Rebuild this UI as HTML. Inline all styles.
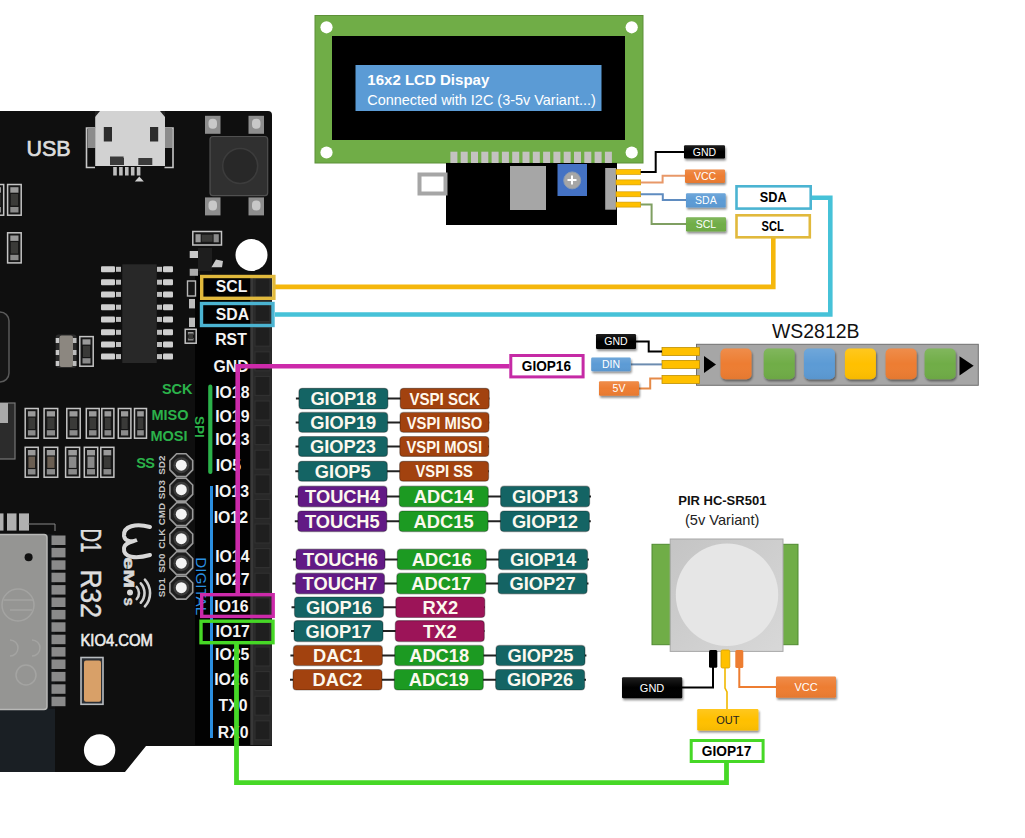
<!DOCTYPE html><html><head><meta charset="utf-8"><style>html,body{margin:0;padding:0;background:#fff;}body{width:1025px;height:838px;overflow:hidden;}svg{display:block;font-family:"Liberation Sans",sans-serif;}</style></head><body>
<svg width="1025" height="838" viewBox="0 0 1025 838">
<defs><filter id="sh" x="-20%" y="-20%" width="150%" height="170%"><feGaussianBlur in="SourceAlpha" stdDeviation="1.2"/><feOffset dx="1" dy="1.5"/><feComponentTransfer><feFuncA type="linear" slope="0.45"/></feComponentTransfer><feMerge><feMergeNode/><feMergeNode in="SourceGraphic"/></feMerge></filter><filter id="bl"><feGaussianBlur stdDeviation="0.5"/></filter><linearGradient id="pirg" x1="0" y1="0" x2="1" y2="1"><stop offset="0" stop-color="#c4c4c4"/><stop offset="1" stop-color="#d8d8d8"/></linearGradient><linearGradient id="ov" x1="0" y1="0" x2="0" y2="1"><stop offset="0" stop-color="#fff" stop-opacity="0.12"/><stop offset="0.5" stop-color="#fff" stop-opacity="0"/><stop offset="1" stop-color="#000" stop-opacity="0.04"/></linearGradient></defs>
<rect width="1025" height="838" fill="#fff"/>
<g id="board">
<path d="M0,111 L268,111 Q272,111 272,115 L272,746 L146,746 L125,772 L0,772 Z" fill="#0f0f0f"/>
<rect x="0" y="709" width="55" height="63" fill="#1a1f24"/>
<rect x="46" y="534" width="9" height="175" fill="#141618"/>
<rect x="-3" y="534.5" width="50" height="175" rx="3" fill="#959593" stroke="#b8b8b6" stroke-width="1.5"/>
<circle cx="28.6" cy="557.3" r="4" fill="#111"/>
<g fill="none" stroke="#a8a8a6" stroke-width="1.5" opacity="0.8"><circle cx="18" cy="605" r="16"/><path d="M4,600 h30 M10,610 h22"/><path d="M10,640 a8,8 0 0 1 0,16 M32,640 a8,8 0 0 1 0,16"/><circle cx="26" cy="675" r="10"/></g>
<rect x="51.5" y="535.5" width="14" height="9.5" fill="#8a8a8a"/>
<rect x="51.5" y="547.9" width="14" height="9.5" fill="#8a8a8a"/>
<rect x="51.5" y="560.3" width="14" height="9.5" fill="#8a8a8a"/>
<rect x="51.5" y="572.7" width="14" height="9.5" fill="#8a8a8a"/>
<rect x="51.5" y="585.1" width="14" height="9.5" fill="#8a8a8a"/>
<rect x="51.5" y="597.5" width="14" height="9.5" fill="#8a8a8a"/>
<rect x="51.5" y="609.9" width="14" height="9.5" fill="#8a8a8a"/>
<rect x="51.5" y="622.3" width="14" height="9.5" fill="#8a8a8a"/>
<rect x="51.5" y="634.7" width="14" height="9.5" fill="#8a8a8a"/>
<rect x="51.5" y="647.1" width="14" height="9.5" fill="#8a8a8a"/>
<rect x="51.5" y="659.5" width="14" height="9.5" fill="#8a8a8a"/>
<rect x="51.5" y="671.9" width="14" height="9.5" fill="#8a8a8a"/>
<rect x="51.5" y="684.3" width="14" height="9.5" fill="#8a8a8a"/>
<rect x="51.5" y="696.7" width="14" height="9.5" fill="#8a8a8a"/>
<rect x="-2" y="513.4" width="5.5" height="17.2" fill="#b0b0b0"/>
<rect x="7" y="513.4" width="9.5" height="17.2" fill="#b0b0b0"/>
<rect x="19" y="513.4" width="10" height="17.2" fill="#b0b0b0"/>
<path d="M28,524 H55 V531" stroke="#888" stroke-width="1" fill="none"/>
<rect x="195" y="275" width="56" height="470" fill="#020202"/>
<rect x="250" y="275" width="22" height="470" fill="#282828"/>
<rect x="251" y="275" width="2.2" height="470" fill="#383838"/>
<rect x="255" y="278.0" width="15" height="19" fill="#1f1f1f" stroke="#303030" stroke-width="1.2"/>
<rect x="255" y="302.6" width="15" height="19" fill="#1f1f1f" stroke="#303030" stroke-width="1.2"/>
<rect x="255" y="327.2" width="15" height="19" fill="#1f1f1f" stroke="#303030" stroke-width="1.2"/>
<rect x="255" y="351.8" width="15" height="19" fill="#1f1f1f" stroke="#303030" stroke-width="1.2"/>
<rect x="255" y="376.4" width="15" height="19" fill="#1f1f1f" stroke="#303030" stroke-width="1.2"/>
<rect x="255" y="401.0" width="15" height="19" fill="#1f1f1f" stroke="#303030" stroke-width="1.2"/>
<rect x="255" y="425.6" width="15" height="19" fill="#1f1f1f" stroke="#303030" stroke-width="1.2"/>
<rect x="255" y="450.2" width="15" height="19" fill="#1f1f1f" stroke="#303030" stroke-width="1.2"/>
<rect x="255" y="474.8" width="15" height="19" fill="#1f1f1f" stroke="#303030" stroke-width="1.2"/>
<rect x="255" y="499.4" width="15" height="19" fill="#1f1f1f" stroke="#303030" stroke-width="1.2"/>
<rect x="255" y="524.0" width="15" height="19" fill="#1f1f1f" stroke="#303030" stroke-width="1.2"/>
<rect x="255" y="548.6" width="15" height="19" fill="#1f1f1f" stroke="#303030" stroke-width="1.2"/>
<rect x="255" y="573.2" width="15" height="19" fill="#1f1f1f" stroke="#303030" stroke-width="1.2"/>
<rect x="255" y="597.8" width="15" height="19" fill="#1f1f1f" stroke="#303030" stroke-width="1.2"/>
<rect x="255" y="622.4" width="15" height="19" fill="#1f1f1f" stroke="#303030" stroke-width="1.2"/>
<rect x="255" y="647.0" width="15" height="19" fill="#1f1f1f" stroke="#303030" stroke-width="1.2"/>
<rect x="255" y="671.6" width="15" height="19" fill="#1f1f1f" stroke="#303030" stroke-width="1.2"/>
<rect x="255" y="696.2" width="15" height="19" fill="#1f1f1f" stroke="#303030" stroke-width="1.2"/>
<rect x="255" y="720.8" width="15" height="19" fill="#1f1f1f" stroke="#303030" stroke-width="1.2"/>
<circle cx="251.5" cy="255" r="16" fill="#fff"/>
<circle cx="99.6" cy="750" r="15.7" fill="#fff"/>
<text x="26.5" y="156.3" font-size="21.5" fill="#dcdcdc" stroke="#dcdcdc" stroke-width="0.7">USB</text>
<path d="M95,128 H86.5 V167.5 H95" fill="none" stroke="#c8c8c8" stroke-width="1.6"/>
<path d="M164.5,128 H173 V167.5 H164.5" fill="none" stroke="#c8c8c8" stroke-width="1.6"/>
<rect x="87.5" y="128" width="8" height="20" fill="#8c8c8c"/><rect x="164" y="128" width="8" height="20" fill="#8c8c8c"/>
<path d="M97,111 H163 L165,114 V166 H95.2 V114 Z" fill="#d2d2d2"/>
<path d="M95,111 h5 l-5,6 z M165,111 h-5 l5,6 z" fill="#222"/>
<rect x="103.8" y="127" width="8.2" height="14.5" fill="#2c2c2c"/><rect x="150" y="127" width="8.2" height="14.5" fill="#2c2c2c"/>
<path d="M110,158 h13.6 v-1.5 h-13.6 z M110,158 h14 v7 h-14 z" fill="#3a3a3a"/><path d="M138.3,158 h14 v7 h-14 z" fill="#3a3a3a"/>
<rect x="113.2" y="167" width="3.6" height="8.5" fill="#bdbdbd"/>
<rect x="119.1" y="167" width="3.6" height="8.5" fill="#bdbdbd"/>
<rect x="125.0" y="167" width="3.6" height="8.5" fill="#bdbdbd"/>
<rect x="130.9" y="167" width="3.6" height="8.5" fill="#bdbdbd"/>
<rect x="136.8" y="167" width="3.6" height="8.5" fill="#bdbdbd"/>
<path d="M134.8,181.6 l4.5,-5 l4.5,5 z" fill="#cfcfcf"/>
<rect x="205" y="115.8" width="15.5" height="18" fill="#8e8e8e"/>
<rect x="208.5" y="118.8" width="8.5" height="10" rx="4" fill="#c8c8c8"/>
<rect x="248.5" y="115.8" width="15.5" height="18" fill="#8e8e8e"/>
<rect x="252.0" y="118.8" width="8.5" height="10" rx="4" fill="#c8c8c8"/>
<rect x="205" y="197.4" width="15.5" height="18" fill="#8e8e8e"/>
<rect x="208.5" y="200.4" width="8.5" height="10" rx="4" fill="#c8c8c8"/>
<rect x="248.5" y="197.4" width="15.5" height="18" fill="#8e8e8e"/>
<rect x="252.0" y="200.4" width="8.5" height="10" rx="4" fill="#c8c8c8"/>
<rect x="210" y="136.5" width="57.7" height="59.2" rx="3" fill="#303030" stroke="#505050" stroke-width="1.2"/>
<circle cx="240.2" cy="166" r="17.5" fill="#282828" stroke="#3c3c3c" stroke-width="1.5"/>
<rect x="-7.2" y="184.5" width="10.9" height="30.7" fill="#161616" stroke="#c4c4c4" stroke-width="1.5"/>
<rect x="-4.5" y="187.2" width="5.5" height="5.5" fill="#9a9a9a"/>
<rect x="-4.5" y="207.0" width="5.5" height="5.5" fill="#8a8a8a"/>
<rect x="-4.0" y="194.0" width="4.5" height="11.6" fill="#3a3a38"/>
<rect x="7.6" y="184.5" width="13.6" height="30.7" fill="#161616" stroke="#c4c4c4" stroke-width="1.5"/>
<rect x="10.3" y="187.2" width="8.2" height="5.5" fill="#9a9a9a"/>
<rect x="10.3" y="207.0" width="8.2" height="5.5" fill="#8a8a8a"/>
<rect x="10.8" y="194.0" width="7.2" height="11.6" fill="#3a3a38"/>
<rect x="7.6" y="232.8" width="13.6" height="30.1" fill="#161616" stroke="#c4c4c4" stroke-width="1.5"/>
<rect x="10.3" y="235.5" width="8.2" height="5.4" fill="#9a9a9a"/>
<rect x="10.3" y="254.8" width="8.2" height="5.4" fill="#8a8a8a"/>
<rect x="10.8" y="242.1" width="7.2" height="11.4" fill="#3a3a38"/>
<rect x="192.8" y="231.5" width="28.7" height="13.5" fill="#161616" stroke="#c4c4c4" stroke-width="1.5"/>
<rect x="195.5" y="234.2" width="5.2" height="8.1" fill="#9a9a9a"/>
<rect x="213.6" y="234.2" width="5.2" height="8.1" fill="#8a8a8a"/>
<rect x="201.7" y="234.7" width="10.9" height="7.1" fill="#3a3a38"/>
<rect x="79.8" y="336.6" width="13.4" height="29.6" fill="#161616" stroke="#c4c4c4" stroke-width="1.5"/>
<rect x="82.5" y="339.3" width="8.0" height="5.3" fill="#9a9a9a"/>
<rect x="82.5" y="358.2" width="8.0" height="5.3" fill="#8a8a8a"/>
<rect x="83.0" y="345.8" width="7.0" height="11.2" fill="#3a3a38"/>
<rect x="185.2" y="329.3" width="11.0" height="13.9" fill="#161616" stroke="#c4c4c4" stroke-width="1.5"/>
<rect x="187.9" y="332.0" width="5.6" height="2.6" fill="#9a9a9a"/>
<rect x="187.9" y="337.9" width="5.6" height="2.6" fill="#8a8a8a"/>
<rect x="188.4" y="333.5" width="4.6" height="5.6" fill="#3a3a38"/>
<rect x="25.2" y="408.5" width="13.0" height="29.7" fill="#161616" stroke="#c4c4c4" stroke-width="1.5"/>
<rect x="27.9" y="411.2" width="7.6" height="5.3" fill="#9a9a9a"/>
<rect x="27.9" y="430.2" width="7.6" height="5.3" fill="#8a8a8a"/>
<rect x="28.4" y="417.7" width="6.6" height="11.3" fill="#3a3a38"/>
<rect x="44.1" y="408.5" width="13.6" height="29.7" fill="#161616" stroke="#c4c4c4" stroke-width="1.5"/>
<rect x="46.8" y="411.2" width="8.2" height="5.3" fill="#9a9a9a"/>
<rect x="46.8" y="430.2" width="8.2" height="5.3" fill="#8a8a8a"/>
<rect x="47.3" y="417.7" width="7.2" height="11.3" fill="#3a3a38"/>
<rect x="66.8" y="408.5" width="13.4" height="29.7" fill="#161616" stroke="#c4c4c4" stroke-width="1.5"/>
<rect x="69.5" y="411.2" width="8.0" height="5.3" fill="#9a9a9a"/>
<rect x="69.5" y="430.2" width="8.0" height="5.3" fill="#8a8a8a"/>
<rect x="70.0" y="417.7" width="7.0" height="11.3" fill="#3a3a38"/>
<rect x="86.3" y="408.5" width="12.9" height="29.7" fill="#161616" stroke="#c4c4c4" stroke-width="1.5"/>
<rect x="89.0" y="411.2" width="7.5" height="5.3" fill="#9a9a9a"/>
<rect x="89.0" y="430.2" width="7.5" height="5.3" fill="#8a8a8a"/>
<rect x="89.5" y="417.7" width="6.5" height="11.3" fill="#3a3a38"/>
<rect x="101.8" y="408.5" width="12.1" height="29.7" fill="#161616" stroke="#c4c4c4" stroke-width="1.5"/>
<rect x="104.5" y="411.2" width="6.7" height="5.3" fill="#9a9a9a"/>
<rect x="104.5" y="430.2" width="6.7" height="5.3" fill="#8a8a8a"/>
<rect x="105.0" y="417.7" width="5.7" height="11.3" fill="#3a3a38"/>
<rect x="118.3" y="408.5" width="12.6" height="29.7" fill="#161616" stroke="#c4c4c4" stroke-width="1.5"/>
<rect x="121.0" y="411.2" width="7.2" height="5.3" fill="#9a9a9a"/>
<rect x="121.0" y="430.2" width="7.2" height="5.3" fill="#8a8a8a"/>
<rect x="121.5" y="417.7" width="6.2" height="11.3" fill="#3a3a38"/>
<rect x="134.5" y="408.5" width="12.0" height="29.7" fill="#161616" stroke="#c4c4c4" stroke-width="1.5"/>
<rect x="137.2" y="411.2" width="6.6" height="5.3" fill="#9a9a9a"/>
<rect x="137.2" y="430.2" width="6.6" height="5.3" fill="#8a8a8a"/>
<rect x="137.7" y="417.7" width="5.6" height="11.3" fill="#3a3a38"/>
<rect x="25.2" y="447.3" width="13.0" height="29.9" fill="#161616" stroke="#c4c4c4" stroke-width="1.5"/>
<rect x="27.9" y="450.0" width="7.6" height="5.4" fill="#9a9a9a"/>
<rect x="27.9" y="469.1" width="7.6" height="5.4" fill="#8a8a8a"/>
<rect x="28.4" y="456.6" width="6.6" height="11.3" fill="#6a5e52"/>
<rect x="44.1" y="447.3" width="13.6" height="29.9" fill="#161616" stroke="#c4c4c4" stroke-width="1.5"/>
<rect x="46.8" y="450.0" width="8.2" height="5.4" fill="#9a9a9a"/>
<rect x="46.8" y="469.1" width="8.2" height="5.4" fill="#8a8a8a"/>
<rect x="47.3" y="456.6" width="7.2" height="11.3" fill="#6a5e52"/>
<rect x="65.6" y="447.3" width="14.0" height="29.9" fill="#161616" stroke="#c4c4c4" stroke-width="1.5"/>
<rect x="68.3" y="450.0" width="8.6" height="5.4" fill="#9a9a9a"/>
<rect x="68.3" y="469.1" width="8.6" height="5.4" fill="#8a8a8a"/>
<rect x="68.8" y="456.6" width="7.6" height="11.3" fill="#8a8a8a"/>
<rect x="84.3" y="447.3" width="13.4" height="29.9" fill="#161616" stroke="#c4c4c4" stroke-width="1.5"/>
<rect x="87.0" y="450.0" width="8.0" height="5.4" fill="#9a9a9a"/>
<rect x="87.0" y="469.1" width="8.0" height="5.4" fill="#8a8a8a"/>
<rect x="87.5" y="456.6" width="7.0" height="11.3" fill="#8a8a8a"/>
<rect x="100.8" y="447.3" width="13.1" height="29.9" fill="#161616" stroke="#c4c4c4" stroke-width="1.5"/>
<rect x="103.5" y="450.0" width="7.7" height="5.4" fill="#9a9a9a"/>
<rect x="103.5" y="469.1" width="7.7" height="5.4" fill="#8a8a8a"/>
<rect x="104.0" y="456.6" width="6.7" height="11.3" fill="#3a3a38"/>
<rect x="81" y="657.5" width="22" height="46.8" fill="#2a2e34" stroke="#b8bcc0" stroke-width="1.6"/>
<rect x="84" y="660.4" width="17" height="41.4" rx="2" fill="#d8a068"/>
<rect x="198" y="248" width="14" height="23" fill="#1e1e1e"/>
<rect x="189.7" y="251" width="8.3" height="7" fill="#c8c8c8"/><rect x="189.7" y="268.8" width="8.3" height="7" fill="#aaa"/><path d="M211.4,267.3 L216,259.5 L223,261 L222,267.3 Z" fill="#c8c8c8"/>
<rect x="187.5" y="281" width="8" height="15" fill="#151515" stroke="#b8b8b8" stroke-width="1.4"/>
<rect x="189" y="299" width="6" height="9.4" fill="#bbb"/><rect x="189" y="317.7" width="6" height="9.3" fill="#bbb"/>
<rect x="122.3" y="264.3" width="34.4" height="98.7" fill="#282828"/>
<rect x="101" y="266.3" width="14" height="6" rx="1" fill="#cfcfcf"/>
<rect x="116" y="266.8" width="5" height="5" fill="#bdbdbd"/>
<rect x="157" y="266.8" width="5" height="5" fill="#bdbdbd"/>
<rect x="163" y="266.3" width="10" height="6" rx="1" fill="#cfcfcf"/>
<rect x="101" y="279.2" width="14" height="6" rx="1" fill="#cfcfcf"/>
<rect x="116" y="279.7" width="5" height="5" fill="#bdbdbd"/>
<rect x="157" y="279.7" width="5" height="5" fill="#bdbdbd"/>
<rect x="163" y="279.2" width="10" height="6" rx="1" fill="#cfcfcf"/>
<rect x="101" y="291.4" width="14" height="6" rx="1" fill="#cfcfcf"/>
<rect x="116" y="291.9" width="5" height="5" fill="#bdbdbd"/>
<rect x="157" y="291.9" width="5" height="5" fill="#bdbdbd"/>
<rect x="163" y="291.4" width="10" height="6" rx="1" fill="#cfcfcf"/>
<rect x="101" y="304.2" width="14" height="6" rx="1" fill="#cfcfcf"/>
<rect x="116" y="304.7" width="5" height="5" fill="#bdbdbd"/>
<rect x="157" y="304.7" width="5" height="5" fill="#bdbdbd"/>
<rect x="163" y="304.2" width="10" height="6" rx="1" fill="#cfcfcf"/>
<rect x="101" y="316.4" width="14" height="6" rx="1" fill="#cfcfcf"/>
<rect x="116" y="316.9" width="5" height="5" fill="#bdbdbd"/>
<rect x="157" y="316.9" width="5" height="5" fill="#bdbdbd"/>
<rect x="163" y="316.4" width="10" height="6" rx="1" fill="#cfcfcf"/>
<rect x="101" y="329.3" width="14" height="6" rx="1" fill="#cfcfcf"/>
<rect x="116" y="329.8" width="5" height="5" fill="#bdbdbd"/>
<rect x="157" y="329.8" width="5" height="5" fill="#bdbdbd"/>
<rect x="163" y="329.3" width="10" height="6" rx="1" fill="#cfcfcf"/>
<rect x="101" y="341.5" width="14" height="6" rx="1" fill="#cfcfcf"/>
<rect x="116" y="342.0" width="5" height="5" fill="#bdbdbd"/>
<rect x="157" y="342.0" width="5" height="5" fill="#bdbdbd"/>
<rect x="163" y="341.5" width="10" height="6" rx="1" fill="#cfcfcf"/>
<rect x="101" y="353.6" width="14" height="6" rx="1" fill="#cfcfcf"/>
<rect x="116" y="354.1" width="5" height="5" fill="#bdbdbd"/>
<rect x="157" y="354.1" width="5" height="5" fill="#bdbdbd"/>
<rect x="163" y="353.6" width="10" height="6" rx="1" fill="#cfcfcf"/>
<rect x="55.7" y="334.4" width="20.8" height="33.6" rx="3" fill="#2a2a2a"/>
<rect x="59.5" y="335.5" width="13.5" height="31.5" rx="2" fill="#8c8780"/>
<rect x="55.7" y="338" width="3.5" height="5" fill="#c8c8c8"/><rect x="73" y="338" width="3.5" height="5" fill="#bcbcbc"/>
<rect x="55.7" y="350" width="3.5" height="5" fill="#c8c8c8"/><rect x="73" y="350" width="3.5" height="5" fill="#bcbcbc"/>
<rect x="55.7" y="361" width="3.5" height="5" fill="#c8c8c8"/><rect x="73" y="361" width="3.5" height="5" fill="#bcbcbc"/>
<rect x="-20" y="312" width="29" height="70" rx="9" fill="#161616" stroke="#5a5a5a" stroke-width="1.5"/>
<rect x="-10" y="403" width="25" height="56" fill="#2c2c2c" stroke="#777" stroke-width="1.2"/>
<rect x="-10" y="403" width="18" height="20" fill="#aaa"/>
<polygon points="192.7,469.9 186.0,476.6 176.6,476.6 169.9,469.9 169.9,460.5 176.6,453.8 186.0,453.8 192.7,460.5" fill="#1e1e1e" stroke="#9a9a9a" stroke-width="1.6"/>
<circle cx="181.3" cy="465.2" r="8" fill="#3c3c3c"/>
<circle cx="181.3" cy="465.2" r="5.5" fill="#f4f4f4"/>
<polygon points="192.7,494.4 186.0,501.1 176.6,501.1 169.9,494.4 169.9,485.0 176.6,478.3 186.0,478.3 192.7,485.0" fill="#1e1e1e" stroke="#9a9a9a" stroke-width="1.6"/>
<circle cx="181.3" cy="489.7" r="8" fill="#3c3c3c"/>
<circle cx="181.3" cy="489.7" r="5.5" fill="#f4f4f4"/>
<polygon points="192.7,518.9 186.0,525.6 176.6,525.6 169.9,518.9 169.9,509.5 176.6,502.8 186.0,502.8 192.7,509.5" fill="#1e1e1e" stroke="#9a9a9a" stroke-width="1.6"/>
<circle cx="181.3" cy="514.2" r="8" fill="#3c3c3c"/>
<circle cx="181.3" cy="514.2" r="5.5" fill="#f4f4f4"/>
<polygon points="192.7,543.4 186.0,550.1 176.6,550.1 169.9,543.4 169.9,534.0 176.6,527.3 186.0,527.3 192.7,534.0" fill="#1e1e1e" stroke="#9a9a9a" stroke-width="1.6"/>
<circle cx="181.3" cy="538.7" r="8" fill="#3c3c3c"/>
<circle cx="181.3" cy="538.7" r="5.5" fill="#f4f4f4"/>
<polygon points="192.7,567.9 186.0,574.6 176.6,574.6 169.9,567.9 169.9,558.5 176.6,551.8 186.0,551.8 192.7,558.5" fill="#1e1e1e" stroke="#9a9a9a" stroke-width="1.6"/>
<circle cx="181.3" cy="563.2" r="8" fill="#3c3c3c"/>
<circle cx="181.3" cy="563.2" r="5.5" fill="#f4f4f4"/>
<polygon points="192.7,592.4 186.0,599.1 176.6,599.1 169.9,592.4 169.9,583.0 176.6,576.3 186.0,576.3 192.7,583.0" fill="#1e1e1e" stroke="#9a9a9a" stroke-width="1.6"/>
<circle cx="181.3" cy="587.7" r="8" fill="#3c3c3c"/>
<circle cx="181.3" cy="587.7" r="5.5" fill="#f4f4f4"/>
<text transform="translate(165.3,465.2) rotate(-90)" font-size="9.8" font-weight="bold" fill="#c4c4c4" text-anchor="middle">SD2</text>
<text transform="translate(165.3,489.7) rotate(-90)" font-size="9.8" font-weight="bold" fill="#c4c4c4" text-anchor="middle">SD3</text>
<text transform="translate(165.3,514.2) rotate(-90)" font-size="9.8" font-weight="bold" fill="#c4c4c4" text-anchor="middle">CMD</text>
<text transform="translate(165.3,538.7) rotate(-90)" font-size="9.8" font-weight="bold" fill="#c4c4c4" text-anchor="middle">CLK</text>
<text transform="translate(165.3,563.2) rotate(-90)" font-size="9.8" font-weight="bold" fill="#c4c4c4" text-anchor="middle">SD0</text>
<text transform="translate(165.3,587.7) rotate(-90)" font-size="9.8" font-weight="bold" fill="#c4c4c4" text-anchor="middle">SD1</text>
<text transform="translate(80.6,528.5) rotate(90)" font-size="29" fill="#dedede" stroke="#dedede" stroke-width="0.5" textLength="24" lengthAdjust="spacingAndGlyphs">D1</text>
<text transform="translate(80.6,569.5) rotate(90)" font-size="29" fill="#dedede" stroke="#dedede" stroke-width="0.5" textLength="48.5" lengthAdjust="spacingAndGlyphs">R32</text>
<path d="M150,527 C136,523 123,526 124,536 C125,542 132,542 137,540 C132,542 125,542 124,548 C123,558 136,559 150,555" fill="none" stroke="#d8d8d8" stroke-width="4" stroke-linecap="round"/>
<text transform="translate(124,557) rotate(90)" font-size="15.5" font-weight="bold" fill="#d8d8d8" stroke="#d8d8d8" stroke-width="0.6" textLength="31" lengthAdjust="spacingAndGlyphs">eM</text>
<circle cx="130" cy="592.5" r="3" fill="#d8d8d8"/>
<text transform="translate(124,597.5) rotate(90)" font-size="15" font-weight="bold" fill="#d8d8d8" stroke="#d8d8d8" stroke-width="0.5">s</text>
<g fill="none" stroke="#d0d0d0" stroke-width="2.6" stroke-linecap="round"><path d="M136.7,587.0 A9,9 0 0 1 136.7,599.0"/><path d="M140.8,583.3 A14.5,14.5 0 0 1 140.8,602.7"/><path d="M144.9,579.6 A20,20 0 0 1 144.9,606.4"/></g>
<text x="80.4" y="646" font-size="15.6" fill="#ececec" stroke="#ececec" stroke-width="0.6" textLength="72.5" lengthAdjust="spacingAndGlyphs">KIO4.COM</text>
<g font-weight="bold" font-size="14.5" fill="#2bb24a" text-anchor="end">
<text x="192.5" y="394.4">SCK</text><text x="188.5" y="420.4">MISO</text><text x="187.5" y="441.2">MOSI</text><text x="136.2" y="468.2" text-anchor="start">S</text><text x="145.3" y="468.2" text-anchor="start">S</text></g>
<text transform="translate(195,416) rotate(90)" font-size="13.5" font-weight="bold" fill="#2bb24a">SPI</text>
<rect x="208.2" y="384.6" width="4.2" height="89.4" rx="2.1" fill="#2bb24a"/>
<rect x="210" y="486" width="3" height="252" fill="#2a8ee0"/>
<text transform="translate(195.8,557.2) rotate(90)" font-size="15.5" fill="#2a90e0" textLength="58" lengthAdjust="spacingAndGlyphs">DIGITAL</text>
</g>
<g font-weight="bold" font-size="15.8" fill="#f4f4f4">
<text x="215.7" y="291.6">SCL</text>
<text x="215.7" y="320">SDA</text>
<text x="215.2" y="344.5">RST</text>
<text x="213.5" y="371.5">GND</text>
<text x="215.2" y="398">IO18</text>
<text x="215.2" y="422.4">IO19</text>
<text x="215.2" y="445">IO23</text>
<text x="215.7" y="471.4">IO5</text>
<text x="214.7" y="496.6">IO13</text>
<text x="213.7" y="523">IO12</text>
<text x="215.2" y="561.5">IO14</text>
<text x="215.2" y="585">IO27</text>
<text x="214.29999999999998" y="611.7">IO16</text>
<text x="215.5" y="637">IO17</text>
<text x="215.0" y="659.5">IO25</text>
<text x="214.2" y="684.5">IO26</text>
<text x="218.6" y="710.5">TX0</text>
<text x="217.79999999999998" y="737.5">RX0</text>
</g>
<g id="lcd">
<rect x="315" y="15.5" width="328" height="147.5" fill="#70ad47" stroke="#5d9038" stroke-width="1"/>
<rect x="332" y="36" width="293" height="104" fill="#000"/>
<circle cx="326.5" cy="27.3" r="6.1" fill="#fff"/>
<circle cx="631.7" cy="27.3" r="6.1" fill="#fff"/>
<circle cx="326.5" cy="152.5" r="6.1" fill="#fff"/>
<circle cx="631.7" cy="152.5" r="6.1" fill="#fff"/>
<rect x="355.5" y="65" width="246" height="46" fill="#5b9bd5"/>
<text x="367.3" y="85.4" font-size="15" font-weight="bold" fill="#fff" textLength="122" lengthAdjust="spacingAndGlyphs">16x2 LCD Dispay</text>
<text x="367.3" y="105.2" font-size="14.5" fill="#fff" textLength="228.5" lengthAdjust="spacingAndGlyphs">Connected with I2C (3-5v Variant...)</text>
<rect x="450.4" y="151.7" width="7" height="11.6" fill="#c4c2c0"/>
<rect x="460.7" y="151.7" width="7" height="11.6" fill="#c4c2c0"/>
<rect x="471.0" y="151.7" width="7" height="11.6" fill="#c4c2c0"/>
<rect x="481.3" y="151.7" width="7" height="11.6" fill="#c4c2c0"/>
<rect x="491.6" y="151.7" width="7" height="11.6" fill="#c4c2c0"/>
<rect x="501.9" y="151.7" width="7" height="11.6" fill="#c4c2c0"/>
<rect x="512.2" y="151.7" width="7" height="11.6" fill="#c4c2c0"/>
<rect x="522.5" y="151.7" width="7" height="11.6" fill="#c4c2c0"/>
<rect x="532.8" y="151.7" width="7" height="11.6" fill="#c4c2c0"/>
<rect x="543.1" y="151.7" width="7" height="11.6" fill="#c4c2c0"/>
<rect x="553.4" y="151.7" width="7" height="11.6" fill="#c4c2c0"/>
<rect x="563.7" y="151.7" width="7" height="11.6" fill="#c4c2c0"/>
<rect x="574.0" y="151.7" width="7" height="11.6" fill="#c4c2c0"/>
<rect x="584.3" y="151.7" width="7" height="11.6" fill="#c4c2c0"/>
<rect x="594.6" y="151.7" width="7" height="11.6" fill="#c4c2c0"/>
<rect x="604.9" y="151.7" width="7" height="11.6" fill="#c4c2c0"/>
<rect x="446" y="163" width="171" height="62" fill="#000"/>
<rect x="419.5" y="174.5" width="26" height="19" fill="#fff" stroke="#a6a6a6" stroke-width="4"/>
<rect x="510" y="166" width="36" height="44" fill="#a6a6a6"/>
<rect x="557.5" y="164" width="29.5" height="32" fill="#4472c4"/>
<circle cx="572.2" cy="180.4" r="8.5" fill="#a6a6a6" stroke="#8a9ab0" stroke-width="1"/>
<path d="M572,175.5 v9 M567.5,180 h9" stroke="#fff" stroke-width="2"/>
<rect x="605.2" y="168" width="11" height="41.7" fill="#a6a6a6"/>
<rect x="616" y="169.5" width="24.7" height="5" fill="#ffc000" stroke="#c99400" stroke-width="0.6"/>
<rect x="616" y="179.9" width="24.7" height="5" fill="#ffc000" stroke="#c99400" stroke-width="0.6"/>
<rect x="616" y="191.8" width="24.7" height="5" fill="#ffc000" stroke="#c99400" stroke-width="0.6"/>
<rect x="616" y="202.1" width="24.7" height="5" fill="#ffc000" stroke="#c99400" stroke-width="0.6"/>
</g>
<g fill="none" stroke-width="2">
<polyline points="640.7,172 655.7,172 655.7,152 684,152" stroke="#000"/>
<polyline points="640.7,182.4 662.6,182.4 662.6,175.8 685,175.8" stroke="#e89868"/>
<polyline points="640.7,194.3 662.8,194.3 662.8,200 686,200" stroke="#5f8cc0"/>
<polyline points="640.7,204.6 651.6,204.6 651.6,224 686,224" stroke="#7f9f62"/>
</g>
<g filter="url(#sh)"><rect x="684" y="145.2" width="41.0" height="13.2" rx="1.2" fill="#000"/></g>
<rect x="684" y="145.2" width="41.0" height="13.2" rx="1.2" fill="url(#ov)"/>
<text x="704.5" y="155.6" font-size="10.5" fill="#fff" text-anchor="middle">GND</text>
<g filter="url(#sh)"><rect x="685" y="169.4" width="40.0" height="13.6" rx="1.2" fill="#ed7d31"/></g>
<rect x="685" y="169.4" width="40.0" height="13.6" rx="1.2" fill="url(#ov)"/>
<text x="705.0" y="180.0" font-size="10.5" fill="#fff" text-anchor="middle">VCC</text>
<g filter="url(#sh)"><rect x="686" y="193.3" width="39.7" height="14.3" rx="1.2" fill="#5b9bd5"/></g>
<rect x="686" y="193.3" width="39.7" height="14.3" rx="1.2" fill="url(#ov)"/>
<text x="705.9" y="204.2" font-size="10.5" fill="#fff" text-anchor="middle">SDA</text>
<g filter="url(#sh)"><rect x="686" y="217.2" width="40.0" height="14.3" rx="1.2" fill="#70ad47"/></g>
<rect x="686" y="217.2" width="40.0" height="14.3" rx="1.2" fill="url(#ov)"/>
<text x="706.0" y="228.1" font-size="10.5" fill="#fff" text-anchor="middle">SCL</text>
<g fill="none">
<polyline points="275,286.9 773.3,286.9 773.3,238" stroke="#f5b70c" stroke-width="4.6"/>
<polyline points="275,314.5 830.3,314.5 830.3,197.8 812,197.8" stroke="#46c2d8" stroke-width="4.6"/>
<polyline points="237.7,594 237.7,366.3 509.5,366.3" stroke="#cc2aaa" stroke-width="4.6"/>
<polyline points="236.5,644 236.5,782.7 726.5,782.7 726.5,763" stroke="#46d826" stroke-width="4.8"/>
</g>
<g fill="none" stroke-width="3.4">
<rect x="201.7" y="276.5" width="72.2" height="21.8" stroke="#e1b93c"/>
<rect x="201.5" y="303.5" width="71.5" height="22" stroke="#4bb4d2"/>
<rect x="201.7" y="594.7" width="71.5" height="21.7" stroke="#cc2aaa"/>
<rect x="201" y="621.2" width="72" height="21.5" stroke="#46d826"/>
</g>
<rect x="736.5" y="186.3" width="74.2" height="22.3" fill="#fff" stroke="#4bb4d2" stroke-width="2.6"/>
<rect x="736.5" y="215.3" width="73.3" height="22" fill="#fff" stroke="#e1b93c" stroke-width="2.6"/>
<text x="759.8" y="202.2" font-size="14.2" font-weight="bold" textLength="26.8" lengthAdjust="spacingAndGlyphs">SDA</text>
<text x="761.5" y="230.7" font-size="14.2" font-weight="bold" textLength="22.2" lengthAdjust="spacingAndGlyphs">SCL</text>
<text x="772" y="338" font-size="20" fill="#111" textLength="87.5" lengthAdjust="spacingAndGlyphs">WS2812B</text>
<rect x="696.5" y="344.3" width="281.8" height="41" fill="#a6a6a6" stroke="#707070" stroke-width="1"/>
<path d="M704,356 L716,364.5 L704,373 Z" fill="#000"/>
<path d="M959.5,356.3 L973.7,365.8 L959.5,375.4 Z" fill="#000"/>
<g filter="url(#sh)"><rect x="720.5" y="348.6" width="31" height="30.6" rx="5" fill="#ed7d31"/></g>
<rect x="720.5" y="348.6" width="31" height="30.6" rx="5" fill="url(#ov)"/>
<g filter="url(#sh)"><rect x="763.7" y="348.6" width="31" height="30.6" rx="5" fill="#70ad47"/></g>
<rect x="763.7" y="348.6" width="31" height="30.6" rx="5" fill="url(#ov)"/>
<g filter="url(#sh)"><rect x="803.9" y="348.6" width="31" height="30.6" rx="5" fill="#5b9bd5"/></g>
<rect x="803.9" y="348.6" width="31" height="30.6" rx="5" fill="url(#ov)"/>
<g filter="url(#sh)"><rect x="844.9" y="348.6" width="31" height="30.6" rx="5" fill="#ffc000"/></g>
<rect x="844.9" y="348.6" width="31" height="30.6" rx="5" fill="url(#ov)"/>
<g filter="url(#sh)"><rect x="885.6" y="348.6" width="31" height="30.6" rx="5" fill="#ed7d31"/></g>
<rect x="885.6" y="348.6" width="31" height="30.6" rx="5" fill="url(#ov)"/>
<g filter="url(#sh)"><rect x="924.6" y="348.6" width="31" height="30.6" rx="5" fill="#70ad47"/></g>
<rect x="924.6" y="348.6" width="31" height="30.6" rx="5" fill="url(#ov)"/>
<rect x="662" y="347.5" width="37.4" height="8" fill="#ffc000" stroke="#bf8f00" stroke-width="0.8"/>
<rect x="662" y="360.4" width="37.4" height="8" fill="#ffc000" stroke="#bf8f00" stroke-width="0.8"/>
<rect x="662" y="375.5" width="37.4" height="8" fill="#ffc000" stroke="#bf8f00" stroke-width="0.8"/>
<g fill="none" stroke-width="2">
<polyline points="636,341.5 648.7,341.5 648.7,351.5 662,351.5" stroke="#000"/>
<polyline points="630.7,364.4 662,364.4" stroke="#6c8cb0"/>
<polyline points="639,388.5 650.2,388.5 650.2,378.5 662,378.5" stroke="#e58a48"/>
</g>
<g filter="url(#sh)"><rect x="596" y="334" width="40.0" height="15.0" rx="1.2" fill="#000"/></g>
<rect x="596" y="334" width="40.0" height="15.0" rx="1.2" fill="url(#ov)"/>
<text x="616.0" y="345.3" font-size="10.5" fill="#fff" text-anchor="middle">GND</text>
<g filter="url(#sh)"><rect x="591.2" y="357.5" width="39.5" height="13.7" rx="1.2" fill="#5b9bd5"/></g>
<rect x="591.2" y="357.5" width="39.5" height="13.7" rx="1.2" fill="url(#ov)"/>
<text x="611.0" y="368.1" font-size="10.5" fill="#fff" text-anchor="middle">DIN</text>
<g filter="url(#sh)"><rect x="599" y="381.3" width="40.0" height="14.4" rx="1.2" fill="#ed7d31"/></g>
<rect x="599" y="381.3" width="40.0" height="14.4" rx="1.2" fill="url(#ov)"/>
<text x="619.0" y="392.3" font-size="10.5" fill="#fff" text-anchor="middle">5V</text>
<rect x="510.8" y="355.5" width="72.3" height="21.4" fill="#fff" stroke="#c52aa5" stroke-width="3"/>
<text x="521.8" y="370.8" font-size="14" font-weight="bold" textLength="49.2" lengthAdjust="spacingAndGlyphs">GIOP16</text>
<g>
<line x1="295.9" y1="398.6" x2="489.4" y2="398.6" stroke="#222" stroke-width="2"/>
<rect x="298.9" y="388.3" width="89" height="20.7" rx="3.5" fill="#146464" stroke="#000" stroke-opacity="0.3" stroke-width="1.2"/>
<text x="343.4" y="405.2" font-size="18.3" font-weight="bold" fill="#fcf8ee" text-anchor="middle">GIOP18</text>
<rect x="400.2" y="388.3" width="89" height="20.7" rx="3.5" fill="#a2420f" stroke="#000" stroke-opacity="0.3" stroke-width="1.2"/>
<text x="409.4" y="404.8" font-size="17" font-weight="bold" fill="#fff8ec" textLength="70.5" lengthAdjust="spacingAndGlyphs">VSPI SCK</text>
<line x1="295.7" y1="422.4" x2="489.2" y2="422.4" stroke="#222" stroke-width="2"/>
<rect x="298.7" y="412.4" width="89" height="19.9" rx="3.5" fill="#146464" stroke="#000" stroke-opacity="0.3" stroke-width="1.2"/>
<text x="343.2" y="429.0" font-size="18.3" font-weight="bold" fill="#fcf8ee" text-anchor="middle">GIOP19</text>
<rect x="400.0" y="412.4" width="89" height="19.9" rx="3.5" fill="#a2420f" stroke="#000" stroke-opacity="0.3" stroke-width="1.2"/>
<text x="406.7" y="428.6" font-size="17" font-weight="bold" fill="#fff8ec" textLength="75.6" lengthAdjust="spacingAndGlyphs">VSPI MISO</text>
<line x1="295.5" y1="446.4" x2="489.0" y2="446.4" stroke="#222" stroke-width="2"/>
<rect x="298.5" y="436.5" width="89" height="19.9" rx="3.5" fill="#146464" stroke="#000" stroke-opacity="0.3" stroke-width="1.2"/>
<text x="343.0" y="453.1" font-size="18.3" font-weight="bold" fill="#fcf8ee" text-anchor="middle">GIOP23</text>
<rect x="399.8" y="436.5" width="89" height="19.9" rx="3.5" fill="#a2420f" stroke="#000" stroke-opacity="0.3" stroke-width="1.2"/>
<text x="406.5" y="452.6" font-size="17" font-weight="bold" fill="#fff8ec" textLength="75.6" lengthAdjust="spacingAndGlyphs">VSPI MOSI</text>
<line x1="295.3" y1="471.2" x2="488.8" y2="471.2" stroke="#222" stroke-width="2"/>
<rect x="298.3" y="461.3" width="89" height="19.9" rx="3.5" fill="#146464" stroke="#000" stroke-opacity="0.3" stroke-width="1.2"/>
<text x="342.8" y="477.9" font-size="18.3" font-weight="bold" fill="#fcf8ee" text-anchor="middle">GIOP5</text>
<rect x="399.6" y="461.3" width="89" height="19.9" rx="3.5" fill="#a2420f" stroke="#000" stroke-opacity="0.3" stroke-width="1.2"/>
<text x="415.5" y="477.4" font-size="17" font-weight="bold" fill="#fff8ec" textLength="57.3" lengthAdjust="spacingAndGlyphs">VSPI SS</text>
<line x1="295.0" y1="496.5" x2="591.0" y2="496.5" stroke="#222" stroke-width="2"/>
<rect x="298.0" y="486.2" width="89" height="20.6" rx="3.5" fill="#621a85" stroke="#000" stroke-opacity="0.3" stroke-width="1.2"/>
<text x="342.5" y="503.1" font-size="18.3" font-weight="bold" fill="#fcf8ee" text-anchor="middle">TOUCH4</text>
<rect x="399.3" y="486.2" width="89" height="20.6" rx="3.5" fill="#1c9a22" stroke="#000" stroke-opacity="0.3" stroke-width="1.2"/>
<text x="443.8" y="503.1" font-size="18.3" font-weight="bold" fill="#fcf8ee" text-anchor="middle">ADC14</text>
<rect x="500.6" y="486.2" width="89" height="20.6" rx="3.5" fill="#146464" stroke="#000" stroke-opacity="0.3" stroke-width="1.2"/>
<text x="545.1" y="503.1" font-size="18.3" font-weight="bold" fill="#fcf8ee" text-anchor="middle">GIOP13</text>
<line x1="294.8" y1="521.3" x2="590.8" y2="521.3" stroke="#222" stroke-width="2"/>
<rect x="297.8" y="511.0" width="89" height="20.6" rx="3.5" fill="#621a85" stroke="#000" stroke-opacity="0.3" stroke-width="1.2"/>
<text x="342.3" y="527.9" font-size="18.3" font-weight="bold" fill="#fcf8ee" text-anchor="middle">TOUCH5</text>
<rect x="399.1" y="511.0" width="89" height="20.6" rx="3.5" fill="#1c9a22" stroke="#000" stroke-opacity="0.3" stroke-width="1.2"/>
<text x="443.6" y="527.9" font-size="18.3" font-weight="bold" fill="#fcf8ee" text-anchor="middle">ADC15</text>
<rect x="500.4" y="511.0" width="89" height="20.6" rx="3.5" fill="#146464" stroke="#000" stroke-opacity="0.3" stroke-width="1.2"/>
<text x="544.9" y="527.9" font-size="18.3" font-weight="bold" fill="#fcf8ee" text-anchor="middle">GIOP12</text>
<line x1="293.0" y1="559.4" x2="589.0" y2="559.4" stroke="#222" stroke-width="2"/>
<rect x="296.0" y="549.2" width="89" height="20.4" rx="3.5" fill="#621a85" stroke="#000" stroke-opacity="0.3" stroke-width="1.2"/>
<text x="340.5" y="566.0" font-size="18.3" font-weight="bold" fill="#fcf8ee" text-anchor="middle">TOUCH6</text>
<rect x="397.3" y="549.2" width="89" height="20.4" rx="3.5" fill="#1c9a22" stroke="#000" stroke-opacity="0.3" stroke-width="1.2"/>
<text x="441.8" y="566.0" font-size="18.3" font-weight="bold" fill="#fcf8ee" text-anchor="middle">ADC16</text>
<rect x="498.6" y="549.2" width="89" height="20.4" rx="3.5" fill="#146464" stroke="#000" stroke-opacity="0.3" stroke-width="1.2"/>
<text x="543.1" y="566.0" font-size="18.3" font-weight="bold" fill="#fcf8ee" text-anchor="middle">GIOP14</text>
<line x1="292.5" y1="583.5" x2="588.5" y2="583.5" stroke="#222" stroke-width="2"/>
<rect x="295.5" y="573.2" width="89" height="20.6" rx="3.5" fill="#621a85" stroke="#000" stroke-opacity="0.3" stroke-width="1.2"/>
<text x="340.0" y="590.1" font-size="18.3" font-weight="bold" fill="#fcf8ee" text-anchor="middle">TOUCH7</text>
<rect x="396.8" y="573.2" width="89" height="20.6" rx="3.5" fill="#1c9a22" stroke="#000" stroke-opacity="0.3" stroke-width="1.2"/>
<text x="441.3" y="590.1" font-size="18.3" font-weight="bold" fill="#fcf8ee" text-anchor="middle">ADC17</text>
<rect x="498.1" y="573.2" width="89" height="20.6" rx="3.5" fill="#146464" stroke="#000" stroke-opacity="0.3" stroke-width="1.2"/>
<text x="542.6" y="590.1" font-size="18.3" font-weight="bold" fill="#fcf8ee" text-anchor="middle">GIOP27</text>
<line x1="291.5" y1="607.2" x2="485.0" y2="607.2" stroke="#222" stroke-width="2"/>
<rect x="294.5" y="597.0" width="89" height="20.5" rx="3.5" fill="#146464" stroke="#000" stroke-opacity="0.3" stroke-width="1.2"/>
<text x="339.0" y="613.9" font-size="18.3" font-weight="bold" fill="#fcf8ee" text-anchor="middle">GIOP16</text>
<rect x="395.8" y="597.0" width="89" height="20.5" rx="3.5" fill="#9c1458" stroke="#000" stroke-opacity="0.3" stroke-width="1.2"/>
<text x="440.3" y="613.9" font-size="18.3" font-weight="bold" fill="#fcf8ee" text-anchor="middle">RX2</text>
<line x1="291.0" y1="631.1" x2="484.5" y2="631.1" stroke="#222" stroke-width="2"/>
<rect x="294.0" y="620.6" width="89" height="21.0" rx="3.5" fill="#146464" stroke="#000" stroke-opacity="0.3" stroke-width="1.2"/>
<text x="338.5" y="637.7" font-size="18.3" font-weight="bold" fill="#fcf8ee" text-anchor="middle">GIOP17</text>
<rect x="395.3" y="620.6" width="89" height="21.0" rx="3.5" fill="#9c1458" stroke="#000" stroke-opacity="0.3" stroke-width="1.2"/>
<text x="439.8" y="637.7" font-size="18.3" font-weight="bold" fill="#fcf8ee" text-anchor="middle">TX2</text>
<line x1="290.4" y1="655.5" x2="586.4" y2="655.5" stroke="#222" stroke-width="2"/>
<rect x="293.4" y="645.4" width="89" height="20.2" rx="3.5" fill="#a2420f" stroke="#000" stroke-opacity="0.3" stroke-width="1.2"/>
<text x="337.9" y="662.1" font-size="18.3" font-weight="bold" fill="#fcf8ee" text-anchor="middle">DAC1</text>
<rect x="394.7" y="645.4" width="89" height="20.2" rx="3.5" fill="#1c9a22" stroke="#000" stroke-opacity="0.3" stroke-width="1.2"/>
<text x="439.2" y="662.1" font-size="18.3" font-weight="bold" fill="#fcf8ee" text-anchor="middle">ADC18</text>
<rect x="496.0" y="645.4" width="89" height="20.2" rx="3.5" fill="#146464" stroke="#000" stroke-opacity="0.3" stroke-width="1.2"/>
<text x="540.5" y="662.1" font-size="18.3" font-weight="bold" fill="#fcf8ee" text-anchor="middle">GIOP25</text>
<line x1="290.0" y1="679.8" x2="586.0" y2="679.8" stroke="#222" stroke-width="2"/>
<rect x="293.0" y="669.5" width="89" height="20.5" rx="3.5" fill="#a2420f" stroke="#000" stroke-opacity="0.3" stroke-width="1.2"/>
<text x="337.5" y="686.4" font-size="18.3" font-weight="bold" fill="#fcf8ee" text-anchor="middle">DAC2</text>
<rect x="394.3" y="669.5" width="89" height="20.5" rx="3.5" fill="#1c9a22" stroke="#000" stroke-opacity="0.3" stroke-width="1.2"/>
<text x="438.8" y="686.4" font-size="18.3" font-weight="bold" fill="#fcf8ee" text-anchor="middle">ADC19</text>
<rect x="495.6" y="669.5" width="89" height="20.5" rx="3.5" fill="#146464" stroke="#000" stroke-opacity="0.3" stroke-width="1.2"/>
<text x="540.1" y="686.4" font-size="18.3" font-weight="bold" fill="#fcf8ee" text-anchor="middle">GIOP26</text>
</g>
<text x="722.3" y="504.9" font-size="13" font-weight="bold" text-anchor="middle" fill="#111">PIR HC-SR501</text>
<text x="685" y="524.8" font-size="14.2" fill="#222" textLength="74.4" lengthAdjust="spacingAndGlyphs">(5v Variant)</text>
<rect x="652" y="544.3" width="18.5" height="100.4" fill="#70ad47" stroke="#4f8a30" stroke-width="1"/>
<rect x="782.5" y="544.3" width="15.5" height="100.4" fill="#70ad47" stroke="#4f8a30" stroke-width="1"/>
<rect x="670.2" y="539" width="112.8" height="112.4" fill="url(#pirg)" stroke="#a8a8a8" stroke-width="1"/>
<circle cx="727" cy="594.7" r="51.2" fill="#e6e6e6"/>
<rect x="709" y="650" width="8.3" height="17.7" rx="1.5" fill="#000"/>
<rect x="721" y="650" width="8.8" height="18" rx="1.5" fill="#ffc000" stroke="#d4a000" stroke-width="0.8"/>
<rect x="735.3" y="650" width="8" height="18" rx="1.5" fill="#ed7d31"/>
<g fill="none" stroke-width="2">
<polyline points="713,667 713,687.5 682,687.5" stroke="#000"/>
<polyline points="739.3,667 739.3,687 776,687" stroke="#ed7d31"/>
<polyline points="725,668 725,688 727,692 727,709" stroke="#f0b800" stroke-width="1.6"/>
</g>
<g filter="url(#sh)"><rect x="622" y="677.2" width="60.2" height="21.1" rx="1.2" fill="#000"/></g>
<rect x="622" y="677.2" width="60.2" height="21.1" rx="1.2" fill="url(#ov)"/>
<text x="652.1" y="691.7" font-size="11" fill="#fff" text-anchor="middle">GND</text>
<g filter="url(#sh)"><rect x="776" y="676.5" width="60.0" height="21.3" rx="1.2" fill="#ed7d31"/></g>
<rect x="776" y="676.5" width="60.0" height="21.3" rx="1.2" fill="url(#ov)"/>
<text x="806.0" y="691.1" font-size="11" fill="#fff" text-anchor="middle">VCC</text>
<g filter="url(#sh)"><rect x="697.2" y="709" width="61.2" height="21.4" rx="1.2" fill="#ffc000"/></g>
<rect x="697.2" y="709" width="61.2" height="21.4" rx="1.2" fill="url(#ov)"/>
<text x="727.8" y="723.7" font-size="11" fill="#222" text-anchor="middle">OUT</text>
<rect x="691.2" y="740.5" width="71.9" height="21" fill="#fff" stroke="#46d826" stroke-width="3"/>
<text x="701.8" y="755.5" font-size="14" font-weight="bold" textLength="49.5" lengthAdjust="spacingAndGlyphs">GIOP17</text>
</svg></body></html>
